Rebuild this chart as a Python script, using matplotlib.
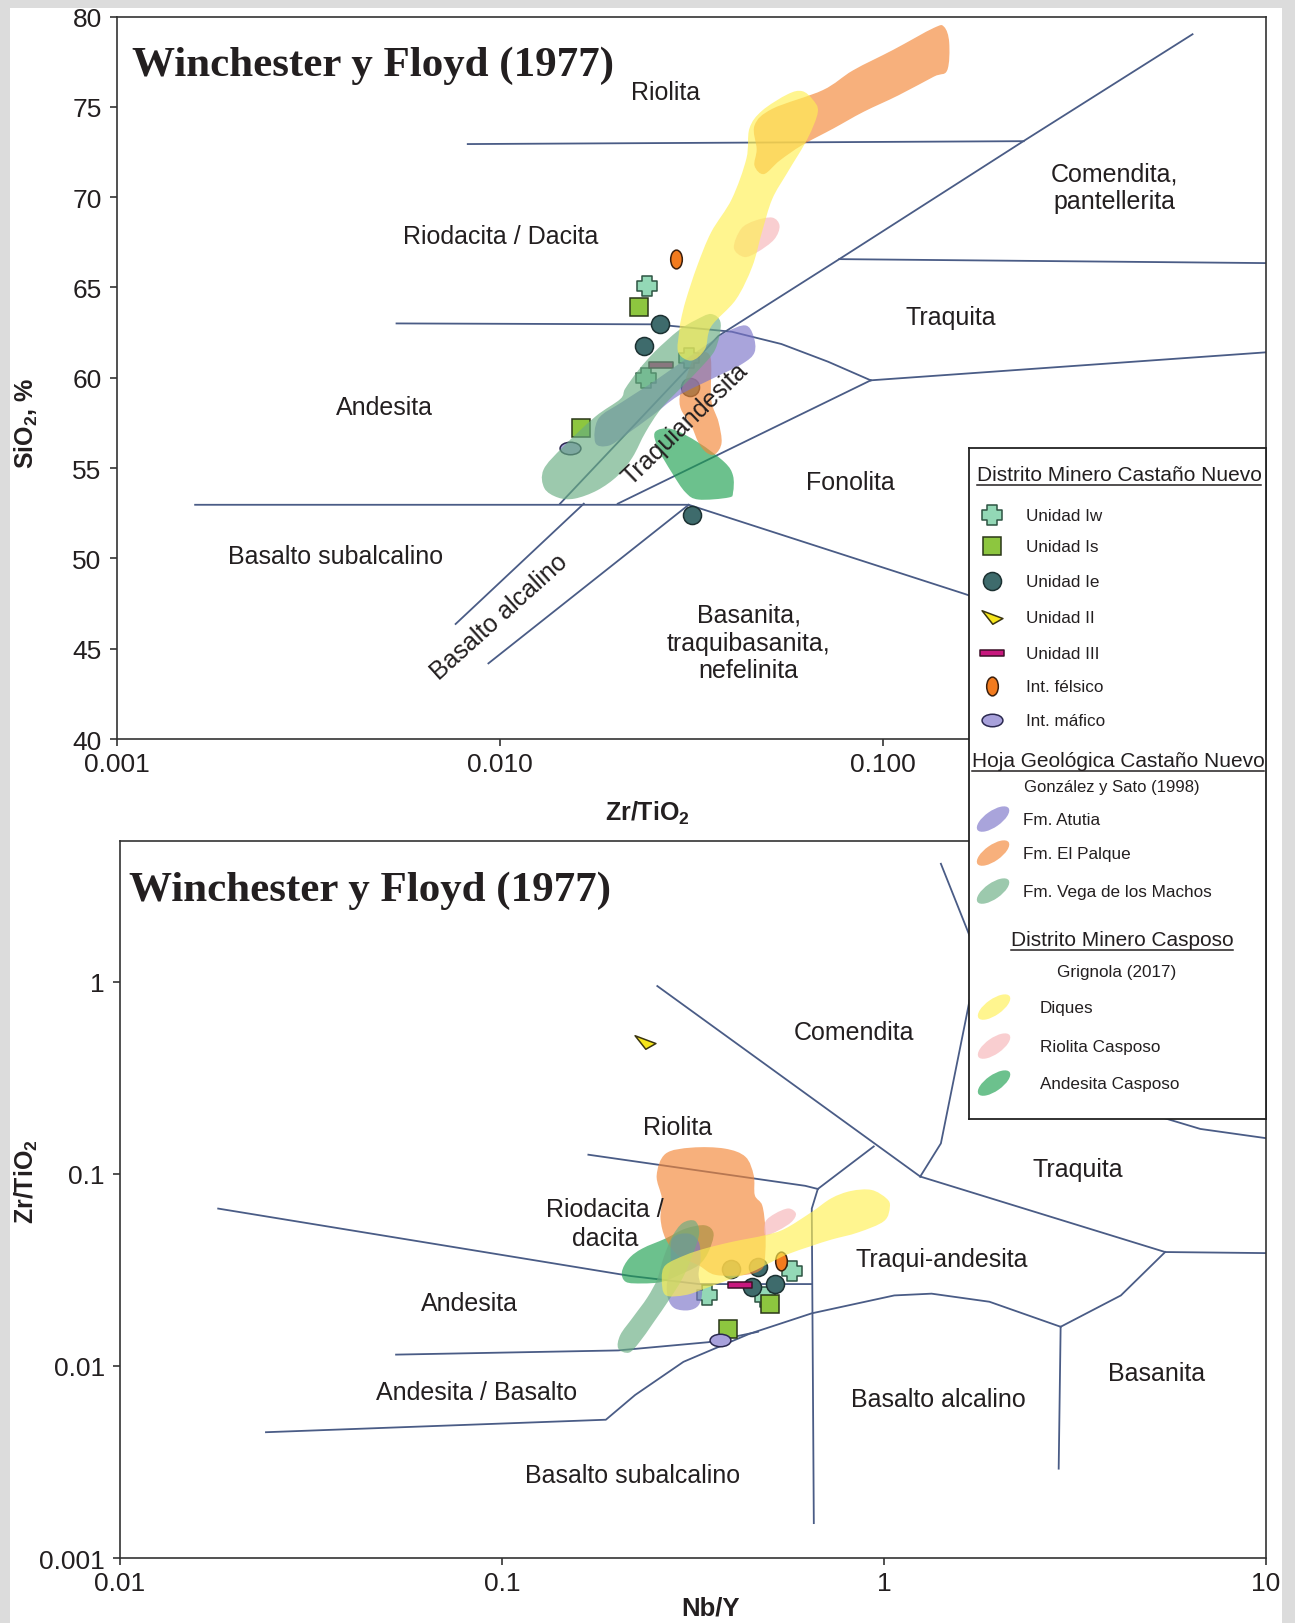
import numpy as np
import matplotlib
matplotlib.use("Agg")
import matplotlib.pyplot as plt
from matplotlib.path import Path
from matplotlib.patches import PathPatch, Rectangle, Ellipse
from matplotlib.transforms import Affine2D
from matplotlib.ticker import NullLocator

plt.rcParams["font.family"] = ["Liberation Sans", "DejaVu Sans"]
plt.rcParams["mathtext.fontset"] = "custom"
plt.rcParams["mathtext.rm"] = "Liberation Sans"
plt.rcParams["mathtext.bf"] = "Liberation Sans:bold"

# ---------------- muestras: SiO2 vs Zr/TiO2 ----------------
iw_zrti = [0.0242, 0.0241, 0.0311]
iw_sio2 = [65.1, 60.0, 61.1]
is_zrti = [0.0230, 0.01625]
is_sio2 = [63.9, 57.2]
ie_zrti = [0.0261, 0.0238, 0.0314, 0.0318]
ie_sio2 = [63.0, 61.75, 59.5, 52.4]
iii_zrti = [0.0264]
iii_sio2 = [60.7]
fel_zrti = [0.0288]
fel_sio2 = [66.6]
maf_zrti = [0.0152]
maf_sio2 = [56.1]

# ---------------- muestras: Zr/TiO2 vs Nb/Y ----------------
iw_nby = [0.574, 0.344, 0.489]
iw_zrti_b = [0.0313, 0.0233, 0.0230]
is_nby = [0.504, 0.390]
is_zrti_b = [0.0211, 0.0156]
ie_nby = [0.398, 0.468, 0.451, 0.517]
ie_zrti_b = [0.0321, 0.0329, 0.0257, 0.0267]
ii_nby = [0.237]
ii_zrti_b = [0.487]
iii_nby = [0.421]
iii_zrti_b = [0.0263]
fel_nby = [0.539]
fel_zrti_b = [0.0350]
maf_nby = [0.371]
maf_zrti_b = [0.0136]

# ---------------- campos bibliograficos (contornos) ----------------
# diagrama SiO2 - Zr/TiO2
atutia_zrti = [0.01774, 0.01807, 0.0208, 0.0243, 0.0281, 0.0324, 0.0388, 0.0437,
               0.0459, 0.0462, 0.0429, 0.0360, 0.0292, 0.0250, 0.0212, 0.0192]
atutia_sio2 = [56.41, 57.73, 58.65, 59.57, 60.49, 61.41, 62.50, 62.90,
               62.32, 61.41, 60.77, 59.97, 59.00, 57.91, 56.81, 56.24]
vega_zrti = [0.0130, 0.01462, 0.01774, 0.0206, 0.02123, 0.0230, 0.0254, 0.0292, 0.0324,
             0.0356, 0.0377, 0.0365, 0.0334, 0.0303, 0.0264, 0.0240, 0.0222, 0.0203,
             0.01795, 0.01566, 0.01417, 0.01306]
vega_sio2 = [54.92, 56.18, 57.85, 58.82, 59.40, 60.43, 61.46, 62.61, 63.19,
             63.53, 63.01, 61.58, 60.55, 59.63, 58.31, 56.99, 55.61, 54.58,
             53.77, 53.31, 53.37, 53.89]
palque_zrti = [0.0468, 0.0462, 0.0514, 0.0697, 0.0835, 0.1064, 0.1357, 0.1444, 0.1489,
               0.1471, 0.1357, 0.1098, 0.0889, 0.0742, 0.0615, 0.0537, 0.0489, 0.0462]
palque_sio2 = [72.65, 73.97, 74.89, 75.93, 77.02, 78.16, 79.37, 79.43, 78.57,
               77.02, 76.67, 75.64, 74.72, 73.80, 72.88, 72.02, 71.28, 71.74]
palque2_zrti = [0.0295, 0.0305, 0.0324, 0.0354, 0.0356, 0.0372, 0.0379, 0.0365,
                0.0347, 0.0330, 0.0316, 0.0297]
palque2_sio2 = [59.00, 59.91, 61.23, 61.18, 58.82, 57.56, 56.41, 55.78,
                55.84, 56.41, 57.33, 58.25]
diques_zrti = [0.0292, 0.0294, 0.0297, 0.0306, 0.0327, 0.0356, 0.0403, 0.0440, 0.0448,
               0.0483, 0.0564, 0.0615, 0.0655, 0.0676, 0.0635, 0.0564, 0.0514, 0.0483,
               0.0456, 0.0413, 0.0356, 0.0343, 0.0316]
diques_sio2 = [61.41, 62.61, 63.24, 64.33, 66.17, 68.06, 69.90, 72.14, 73.80,
               74.78, 75.70, 75.87, 75.41, 74.72, 73.23, 71.39, 69.90, 68.06,
               66.17, 64.33, 62.84, 61.58, 60.95]
riocas_zrti = [0.0426, 0.0462, 0.0514, 0.0537, 0.0520, 0.0471, 0.0434, 0.0408]
riocas_sio2 = [68.24, 68.69, 68.87, 68.41, 67.66, 66.97, 66.69, 67.20]
andcas_zrti = [0.0254, 0.0281, 0.0330, 0.0386, 0.0406, 0.0406, 0.0395, 0.0330,
               0.0305, 0.0281, 0.0259]
andcas_sio2 = [56.99, 57.16, 56.41, 55.32, 54.58, 53.66, 53.37, 53.26,
               53.66, 54.75, 56.07]

# diagrama Zr/TiO2 - Nb/Y
palque_nby = [0.268, 0.314, 0.383, 0.434, 0.456, 0.459, 0.480, 0.489, 0.489,
              0.480, 0.434, 0.362, 0.328, 0.289, 0.268, 0.260, 0.262, 0.254]
palque_zrti_b = [0.1274, 0.1371, 0.1355, 0.1227, 0.0982, 0.0775, 0.0685, 0.0521, 0.0392,
                 0.0321, 0.0298, 0.0298, 0.0333, 0.0377, 0.0460, 0.0582, 0.0747, 0.0982]
diques_nby = [0.262, 0.268, 0.302, 0.340, 0.400, 0.489, 0.551, 0.647, 0.728, 0.819,
              0.928, 1.016, 1.036, 1.000, 0.856, 0.728, 0.647, 0.560, 0.508, 0.451,
              0.400, 0.340, 0.302, 0.268]
diques_zrti_b = [0.0285, 0.0335, 0.0378, 0.0409, 0.0443, 0.0480, 0.0519, 0.0634, 0.0747,
                 0.0815, 0.0825, 0.0744, 0.0674, 0.0568, 0.0496, 0.0455, 0.0422, 0.0382,
                 0.0348, 0.0309, 0.0285, 0.0253, 0.0234, 0.0234]
riocas_nby = [0.489, 0.519, 0.562, 0.588, 0.573, 0.530, 0.489]
riocas_zrti_b = [0.0563, 0.0622, 0.0661, 0.0622, 0.0563, 0.0509, 0.0480]
andcas_nby = [0.206, 0.215, 0.233, 0.268, 0.302, 0.340, 0.358, 0.347, 0.327,
              0.290, 0.262, 0.233, 0.211]
andcas_zrti_b = [0.0309, 0.0363, 0.0409, 0.0461, 0.0519, 0.0540, 0.0489, 0.0393, 0.0335,
                 0.0297, 0.0274, 0.0269, 0.0274]
vega_nby = [0.2015, 0.204, 0.220, 0.240, 0.255, 0.265, 0.279, 0.297, 0.320, 0.328,
            0.316, 0.297, 0.275, 0.249, 0.229, 0.215]
vega_zrti_b = [0.01235, 0.01451, 0.0179, 0.0227, 0.0284, 0.0368, 0.0472, 0.0555, 0.0569,
               0.0490, 0.0382, 0.0287, 0.0224, 0.0168, 0.01331, 0.01174]
atutia_nby = [0.279, 0.308, 0.327, 0.331, 0.327, 0.334, 0.327, 0.308, 0.284, 0.273,
              0.270, 0.276]
atutia_zrti_b = [0.0461, 0.0489, 0.0443, 0.0363, 0.0297, 0.0243, 0.0207, 0.0195, 0.0199,
                 0.0220, 0.0263, 0.0335]

# ---------------- limites de campos ----------------
lineas_sio2 = [
    [(0.00824, 72.94), (0.233, 73.1)],
    [(0.01435, 53.03), (0.0372, 62.32), (0.0769, 66.57), (0.233, 73.11), (0.643, 79.02)],
    [(0.0769, 66.57), (1.0, 66.35)],
    [(0.00537, 63.01), (0.0254, 62.96), (0.0403, 62.55), (0.0543, 61.87),
     (0.0719, 60.89), (0.0929, 59.86)],
    [(0.0929, 59.86), (1.0, 61.41)],
    [(0.0203, 53.03), (0.0929, 59.86)],
    [(0.0016, 52.97), (0.0311, 52.97), (0.1637, 48.03), (0.193, 47.5)],
    [(0.0311, 52.97), (0.00933, 44.19)],
    [(0.01655, 53.03), (0.00766, 46.37)],
]
lineas_nby = [
    [(0.01807, 0.0660), (0.1318, 0.0346), (0.2173, 0.0294), (0.328, 0.0267), (0.647, 0.0267)],
    [(0.1683, 0.1259), (0.622, 0.0867), (0.671, 0.0835)],
    [(0.671, 0.0835), (0.647, 0.0660), (0.655, 0.00152)],
    [(0.671, 0.0835), (0.940, 0.139)],
    [(0.255, 0.951), (1.244, 0.0969)],
    [(1.409, 4.12), (1.763, 1.347), (1.636, 0.632), (1.409, 0.1442), (1.244, 0.0969)],
    [(1.244, 0.0969), (5.445, 0.0392), (10.0, 0.0387)],
    [(5.445, 0.0392), (4.17, 0.0233), (2.90, 0.0160)],
    [(2.90, 0.0160), (1.888, 0.0216), (1.332, 0.0238), (1.064, 0.0233), (0.647, 0.0188),
     (0.444, 0.0147), (0.2985, 0.01051), (0.223, 0.00706), (0.187, 0.00525), (0.0241, 0.00452)],
    [(0.0528, 0.01146), (0.2013, 0.01205), (0.3467, 0.0133), (0.468, 0.01507)],
    [(2.90, 0.0160), (2.866, 0.00292)],
    [(4.44, 0.220), (5.69, 0.1896), (6.73, 0.1715), (10.0, 0.1535)],
]

# nombres de campos
rotulos_sio2 = [
    ("Riolita", 0.0270, 75.81, 0),
    ("Comendita,\npantellerita", 0.403, 70.53, 0),
    ("Riodacita / Dacita", 0.01006, 67.83, 0),
    ("Traquita", 0.150, 63.36, 0),
    ("Andesita", 0.00498, 58.36, 0),
    ("Traquiandesita", 0.0305, 57.45, 44),
    ("Fonolita", 0.0824, 54.23, 0),
    ("Basalto subalcalino", 0.00372, 50.16, 0),
    ("Basalto alcalino", 0.00996, 46.78, 42),
    ("Basanita,\ntraquibasanita,\nnefelinita", 0.0446, 45.34, 0),
]
rotulos_nby = [
    ("Comendita", 0.835, 0.551),
    ("Riolita", 0.2878, 0.176),
    ("Traquita", 3.21, 0.1058),
    ("Riodacita /\ndacita", 0.186, 0.0554),
    ("Traqui-andesita", 1.418, 0.0359),
    ("Andesita", 0.0822, 0.0213),
    ("Basanita", 5.18, 0.00917),
    ("Andesita / Basalto", 0.0859, 0.00733),
    ("Basalto alcalino", 1.391, 0.00672),
    ("Basalto subalcalino", 0.2198, 0.00272),
]

COL_LINEA = "#4a5c86"
COL_TEXTO = "#231f20"
ALFA = 0.65


def _cerrado(verts):
    return Path(verts + [verts[0]],
                [Path.MOVETO] + [Path.LINETO] * (len(verts) - 1) + [Path.CLOSEPOLY])


cruz = _cerrado([(-1, -2), (1, -2), (1, -1), (2, -1), (2, 1), (1, 1), (1, 2), (-1, 2),
                 (-1, 1), (-2, 1), (-2, -1), (-1, -1)])
barra = _cerrado([(-1, -0.22), (1, -0.22), (1, 0.22), (-1, 0.22)])
triangulo = _cerrado([(-1, 0.65), (1, -0.1), (0.03, -0.65)])
elipse_v = Affine2D().scale(0.62, 1.0).transform_path(Path.unit_circle())
elipse_h = Affine2D().scale(1.0, 0.6).transform_path(Path.unit_circle())

estilos = {
    "Unidad Iw": dict(marker=cruz, ms=14, mfc="#93d8b6", mec="#2e5443"),
    "Unidad Is": dict(marker="s", ms=13.5, mfc="#8dc63f", mec="#2a3718"),
    "Unidad Ie": dict(marker="o", ms=13, mfc="#3e6b6c", mec="#1c3132"),
    "Unidad II": dict(marker=triangulo, ms=15, mfc="#f6e51b", mec="#3b3510"),
    "Unidad III": dict(marker=barra, ms=17, mfc="#c8187e", mec="#3d1028"),
    "Int. félsico": dict(marker=elipse_v, ms=13.5, mfc="#f27b1e", mec="#3a1f0d"),
    "Int. máfico": dict(marker=elipse_h, ms=15, mfc="#a8a1db", mec="#2b2950"),
}
colores_campo = {
    "Fm. Atutia": "#7b74c9",
    "Fm. El Palque": "#f38636",
    "Fm. Vega de los Machos": "#67ac81",
    "Diques": "#fff053",
    "Riolita Casposo": "#f6b5b7",
    "Andesita Casposo": "#1da050",
}


def campo(ax, xs, ys, color, logy=False):
    # contorno cerrado que pasa por los puntos (Catmull-Rom -> Bezier cubica)
    x = np.log10(xs)
    y = np.log10(ys) if logy else np.asarray(ys, float)
    p = np.column_stack([x, y])
    n = len(p)
    verts = [p[0]]
    codes = [Path.MOVETO]
    for i in range(n):
        p0, p1, p2, p3 = p[i - 1], p[i], p[(i + 1) % n], p[(i + 2) % n]
        verts += [p1 + (p2 - p0) / 6, p2 - (p3 - p1) / 6, p2]
        codes += [Path.CURVE4] * 3
    verts = np.array(verts)
    verts[:, 0] = 10 ** verts[:, 0]
    if logy:
        verts[:, 1] = 10 ** verts[:, 1]
    ax.add_patch(PathPatch(Path(verts, codes), fc=color, ec="none", alpha=ALFA, zorder=4))


def ejes(ax):
    for s in ax.spines.values():
        s.set_linewidth(1.2)
        s.set_color("#333333")
    ax.tick_params(direction="out", length=5, width=1.2, labelsize=19,
                   colors="#333333", labelcolor=COL_TEXTO)
    ax.tick_params(axis="y", pad=6)
    ax.tick_params(axis="x", pad=4)
    ax.xaxis.set_minor_locator(NullLocator())
    ax.yaxis.set_minor_locator(NullLocator())


fig = plt.figure(figsize=(12.95, 16.24), dpi=100, facecolor="#dcdcdc")
fig.add_artist(Rectangle((10 / 1295, 0), 1272 / 1295, 1 - 9 / 1624,
                         transform=fig.transFigure, fc="white", ec="none", zorder=-10))

# ================= SiO2 vs Zr/TiO2 =================
ax1 = fig.add_axes([0.0903, 0.5443, 0.8873, 0.4449])
ax1.set_xscale("log")
ax1.set_xlim(0.001, 1.0)
ax1.set_ylim(40, 80)
ejes(ax1)
ax1.set_xticks([0.001, 0.01, 0.1])
ax1.set_xticklabels(["0.001", "0.010", "0.100"])
ax1.set_yticks(range(40, 81, 5))

for ln in lineas_sio2:
    xs, ys = zip(*ln)
    ax1.plot(xs, ys, color=COL_LINEA, lw=1.3, zorder=2, solid_joinstyle="round")

for txt, x, y, rot in rotulos_sio2:
    ax1.text(x, y, txt, ha="center", va="center", size=18, color=COL_TEXTO,
             rotation=rot, rotation_mode="anchor", linespacing=1.2, zorder=6)

muestras_sio2 = [
    ("Unidad Iw", iw_zrti, iw_sio2), ("Unidad Is", is_zrti, is_sio2),
    ("Unidad Ie", ie_zrti, ie_sio2), ("Unidad III", iii_zrti, iii_sio2),
    ("Int. félsico", fel_zrti, fel_sio2), ("Int. máfico", maf_zrti, maf_sio2),
]
for nombre, xs, ys in muestras_sio2:
    ax1.plot(xs, ys, ls="none", mew=1.1, zorder=3, **estilos[nombre])

campo(ax1, andcas_zrti, andcas_sio2, colores_campo["Andesita Casposo"])
campo(ax1, palque_zrti, palque_sio2, colores_campo["Fm. El Palque"])
campo(ax1, palque2_zrti, palque2_sio2, colores_campo["Fm. El Palque"])
campo(ax1, atutia_zrti, atutia_sio2, colores_campo["Fm. Atutia"])
campo(ax1, vega_zrti, vega_sio2, colores_campo["Fm. Vega de los Machos"])
campo(ax1, riocas_zrti, riocas_sio2, colores_campo["Riolita Casposo"])
campo(ax1, diques_zrti, diques_sio2, colores_campo["Diques"])

ax1.text(0.0127, 0.9197, "Winchester y Floyd (1977)", transform=ax1.transAxes,
         family="Liberation Serif", weight="bold", size=31, color=COL_TEXTO,
         ha="left", va="baseline", zorder=6)
ax1.set_xlabel(r"Zr/TiO$_\mathbf{2}$", fontsize=18, fontweight="bold", color=COL_TEXTO)
ax1.xaxis.set_label_coords(0.4617, -0.083)
ax1.set_ylabel(r"SiO$_\mathbf{2}$, %", fontsize=18, fontweight="bold", color=COL_TEXTO)
ax1.yaxis.set_label_coords(-0.067, 0.439)

# ================= Zr/TiO2 vs Nb/Y =================
ax2 = fig.add_axes([0.0927, 0.0400, 0.8849, 0.4415])
ax2.set_xscale("log")
ax2.set_yscale("log")
ax2.set_xlim(0.01, 10)
ax2.set_ylim(0.001, 5.41)
ejes(ax2)
ax2.set_xticks([0.01, 0.1, 1, 10])
ax2.set_xticklabels(["0.01", "0.1", "1", "10"])
ax2.set_yticks([0.001, 0.01, 0.1, 1])
ax2.set_yticklabels(["0.001", "0.01", "0.1", "1"])

for ln in lineas_nby:
    xs, ys = zip(*ln)
    ax2.plot(xs, ys, color=COL_LINEA, lw=1.3, zorder=2, solid_joinstyle="round")

for txt, x, y in rotulos_nby:
    ax2.text(x, y, txt, ha="center", va="center", size=18, color=COL_TEXTO,
             linespacing=1.25, zorder=6)

muestras_nby = [
    ("Unidad Iw", iw_nby, iw_zrti_b), ("Unidad Is", is_nby, is_zrti_b),
    ("Unidad Ie", ie_nby, ie_zrti_b), ("Unidad II", ii_nby, ii_zrti_b),
    ("Unidad III", iii_nby, iii_zrti_b), ("Int. félsico", fel_nby, fel_zrti_b),
    ("Int. máfico", maf_nby, maf_zrti_b),
]
for nombre, xs, ys in muestras_nby:
    ax2.plot(xs, ys, ls="none", mew=1.1, zorder=3, **estilos[nombre])

campo(ax2, andcas_nby, andcas_zrti_b, colores_campo["Andesita Casposo"], logy=True)
campo(ax2, palque_nby, palque_zrti_b, colores_campo["Fm. El Palque"], logy=True)
campo(ax2, atutia_nby, atutia_zrti_b, colores_campo["Fm. Atutia"], logy=True)
campo(ax2, vega_nby, vega_zrti_b, colores_campo["Fm. Vega de los Machos"], logy=True)
campo(ax2, riocas_nby, riocas_zrti_b, colores_campo["Riolita Casposo"], logy=True)
campo(ax2, diques_nby, diques_zrti_b, colores_campo["Diques"], logy=True)

ax2.text(0.0074, 0.9173, "Winchester y Floyd (1977)", transform=ax2.transAxes,
         family="Liberation Serif", weight="bold", size=31, color=COL_TEXTO,
         ha="left", va="baseline", zorder=6)
ax2.set_xlabel("Nb/Y", fontsize=18.5, fontweight="bold", color=COL_TEXTO)
ax2.xaxis.set_label_coords(0.5155, -0.052)
ax2.set_ylabel(r"Zr/TiO$_\mathbf{2}$", fontsize=18, fontweight="bold", color=COL_TEXTO)
ax2.yaxis.set_label_coords(-0.070, 0.527)

# ================= leyenda =================
ley = fig.add_axes([0.7483, 0.3103, 0.2293, 0.4132], zorder=10)
ley.set_xlim(0, 297)
ley.set_ylim(671, 0)
ley.set_xticks([])
ley.set_yticks([])
ley.set_facecolor("white")
for s in ley.spines.values():
    s.set_linewidth(1.3)
    s.set_color("#222222")

rend = fig.canvas.get_renderer()


def titulo(x, y, txt):
    t = ley.text(x, y, txt, ha="center", va="center", size=15, color=COL_TEXTO)
    bb = t.get_window_extent(renderer=rend)
    (x0, _), (x1, _) = ley.transData.inverted().transform([(bb.x0, 0), (bb.x1, 0)])
    ley.plot([x0, x1], [y + 11, y + 11], color=COL_TEXTO, lw=1.1)


titulo(150, 26, "Distrito Minero Castaño Nuevo")
filas = [("Unidad Iw", 67), ("Unidad Is", 98), ("Unidad Ie", 133), ("Unidad II", 169),
         ("Unidad III", 205), ("Int. félsico", 238), ("Int. máfico", 272)]
for nombre, y in filas:
    ley.plot([23], [y], ls="none", mew=1.1, **estilos[nombre])
    ley.text(57, y, nombre, ha="left", va="center", size=12.3, color=COL_TEXTO)

titulo(149, 312, "Hoja Geológica Castaño Nuevo")
ley.text(143, 338, "González y Sato (1998)", ha="center", va="center", size=12, color=COL_TEXTO)
for nombre, y, xt in [("Fm. Atutia", 371, 54), ("Fm. El Palque", 405, 54),
                      ("Fm. Vega de los Machos", 443, 54)]:
    ley.add_patch(Ellipse((24, y), 38, 16, angle=-35, fc=colores_campo[nombre],
                          ec="none", alpha=ALFA))
    ley.text(xt, y, nombre, ha="left", va="center", size=12.3, color=COL_TEXTO)

titulo(153, 491, "Distrito Minero Casposo")
ley.text(148, 523, "Grignola (2017)", ha="center", va="center", size=12.3, color=COL_TEXTO)
for nombre, y in [("Diques", 559), ("Riolita Casposo", 598), ("Andesita Casposo", 635)]:
    ley.add_patch(Ellipse((25, y), 38, 16, angle=-35, fc=colores_campo[nombre],
                          ec="none", alpha=ALFA))
    ley.text(71, y, nombre, ha="left", va="center", size=12.3, color=COL_TEXTO)

fig.savefig("out.png", dpi=100, facecolor=fig.get_facecolor())
